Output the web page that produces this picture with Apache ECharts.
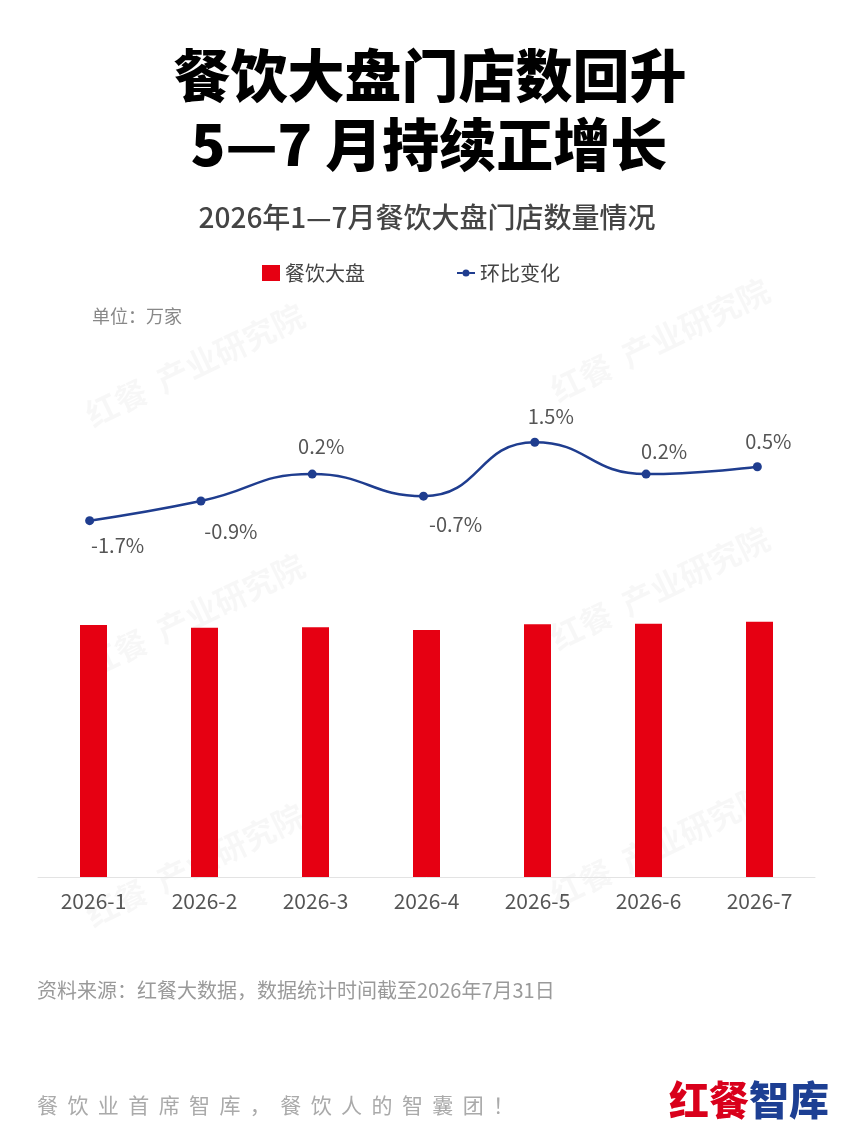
<!DOCTYPE html>
<html>
<head>
<meta charset="utf-8">
<script src="https://cdn.jsdelivr.net/npm/echarts@6/dist/echarts.min.js"></script>
<style>
html,body{margin:0;padding:0;background:#fff;}
#c{width:850px;height:1133px;}
</style>
</head>
<body>
<div id="c"></div>
<script>
var categories = ['2026-1','2026-2','2026-3','2026-4','2026-5','2026-6','2026-7'];
var storeCounts = [800, 791, 793, 784, 802, 804, 810];
var momChange = [-1.7, -0.9, 0.2, -0.7, 1.5, 0.2, 0.5];

var FONT = '"Noto Sans CJK SC", "Noto Sans", sans-serif';

// label placement (style only): [dx, dy]
var labelShift = [[28,25],[30,30],[9,-28],[32,28],[16,-26],[18,-23],[11,-25]];

var lineData = momChange.map(function(v,i){
  return {value:v, label:{offset:labelShift[i]}};
});

var chart = echarts.init(document.getElementById('c'), null, {renderer:'canvas'});

var watermarkPos = [[195,365],[660,340],[195,615],[660,588],[195,865],[660,845]];
var graphics = [];
watermarkPos.forEach(function(p){
  graphics.push({
    type:'text', x:p[0], y:p[1], rotation:0.45, z:-10,
    style:{text:'红餐  产业研究院', fill:'rgba(0,0,0,0.03)', font:'bold 32px '+FONT, textAlign:'center', textVerticalAlign:'middle'}
  });
});
graphics.push(
  {type:'text', x:430, y:75, style:{text:'餐饮大盘门店数回升', fill:'#000', font:'900 57px '+FONT, textAlign:'center', textVerticalAlign:'middle'}},
  {type:'text', x:429, y:144, style:{text:'5—7 月持续正增长', fill:'#000', font:'900 57px '+FONT, textAlign:'center', textVerticalAlign:'middle'}},
  {type:'text', x:427, y:217, style:{text:'2026年1—7月餐饮大盘门店数量情况', fill:'#444', font:'500 28px '+FONT, textAlign:'center', textVerticalAlign:'middle'}},
  {type:'text', x:92, y:316, style:{text:'单位：万家', fill:'#888', font:'18px '+FONT, textAlign:'left', textVerticalAlign:'middle'}},
  {type:'text', x:37, y:990, style:{text:'资料来源：红餐大数据，数据统计时间截至2026年7月31日', fill:'#9a9a9a', font:'20px '+FONT, textAlign:'left', textVerticalAlign:'middle'}},
  {type:'text', x:37, y:1105, style:{text:'餐  饮  业  首  席  智  库  ，  餐  饮  人  的  智  囊  团  ！', fill:'#aaa', font:'21px '+FONT, textAlign:'left', textVerticalAlign:'middle'}},
  {type:'text', x:829, y:1100, style:{
    text:'{r|红餐}{b|智库}', textAlign:'right', textVerticalAlign:'middle',
    rich:{
      r:{fill:'#d9001b', font:'900 40px '+FONT},
      b:{fill:'#1d3f93', font:'900 40px '+FONT}
    }
  }}
);

var lineIcon = 'path://M0,5 L5.5,5 L5.5,7 L0,7 Z M12.5,5 L18,5 L18,7 L12.5,7 Z M5.5,6 A3.5,3.5 0 1,1 12.5,6 A3.5,3.5 0 1,1 5.5,6 Z';

var option = {
  backgroundColor:'#fff',
  animation:false,
  textStyle:{fontFamily:FONT},
  legend:{
    left:257, top:258,
    itemWidth:18, itemHeight:16, itemGap:92,
    textStyle:{fontSize:20, color:'#444', fontFamily:FONT},
    data:[{name:'餐饮大盘', icon:'rect'},{name:'环比变化', icon:lineIcon}]
  },
  grid:[
    {left:38, right:35, top:562, bottom:256, containLabel:false},
    {left:34, right:37, top:430, bottom:605, containLabel:false}
  ],
  xAxis:[
    {type:'category', gridIndex:0, data:categories,
     axisLine:{show:true, lineStyle:{color:'#e3e3e3', width:1}},
     axisTick:{show:false},
     axisLabel:{fontSize:21, color:'#555', margin:14, fontFamily:FONT}},
    {type:'category', gridIndex:1, data:categories, show:false}
  ],
  yAxis:[
    {type:'value', gridIndex:0, min:0, max:1000, show:false, splitLine:{show:false}},
    {type:'value', gridIndex:1, min:-2, max:2, show:false, splitLine:{show:false}}
  ],
  series:[
    {name:'餐饮大盘', type:'bar', xAxisIndex:0, yAxisIndex:0,
     data:storeCounts, barWidth:27,
     itemStyle:{color:'#e60012'}},
    {name:'环比变化', type:'line', xAxisIndex:1, yAxisIndex:1,
     data:lineData, smooth:0.5,
     symbol:'circle', symbolSize:9,
     lineStyle:{color:'#1f3d8f', width:2.5},
     itemStyle:{color:'#1f3d8f'},
     label:{show:true, position:'inside', fontSize:20, color:'#555', fontFamily:FONT,
       formatter:function(p){return p.value.toFixed(1)+'%';}}}
  ],
  graphic:graphics
};
chart.setOption(option);
</script>
</body>
</html>
